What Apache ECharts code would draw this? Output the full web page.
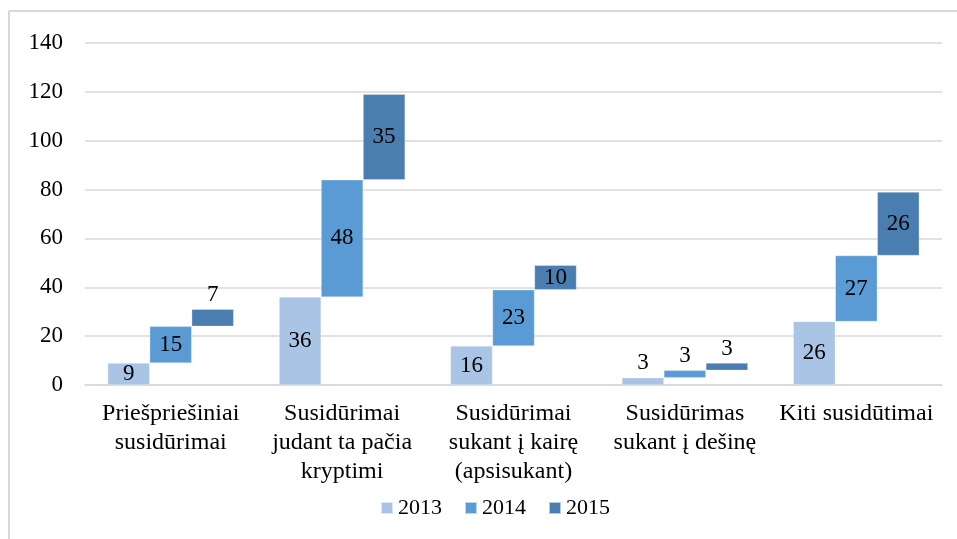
<!DOCTYPE html>
<html>
<head>
<meta charset="utf-8">
<script src="https://cdn.jsdelivr.net/npm/echarts@6/dist/echarts.min.js"></script>
<style>
  html, body { margin: 0; padding: 0; background: #fff; }
  #chart { width: 957px; height: 539px; }
</style>
</head>
<body>
<div id="chart"></div>
<script>
// Collision types and yearly counts; each year's bar floats on top of the previous years.
const categories = [
  'Priešpriešiniai\nsusidūrimai',
  'Susidūrimai\njudant ta pačia\nkryptimi',
  'Susidūrimai\nsukant į kairę\n(apsisukant)',
  'Susidūrimas\nsukant į dešinę',
  'Kiti susidūtimai'
];
const years = ['2013', '2014', '2015'];
const values2013 = [9, 36, 16, 3, 26];
const values2014 = [15, 48, 23, 3, 27];
const values2015 = [7, 35, 10, 3, 26];
const yTicks = { min: 0, max: 140, interval: 20 };

const colors = ['#a9c4e4', '#5b9bd5', '#4a7eb0'];
const FONT = '"Liberation Serif", "Times New Roman", serif';

const yearValues = [values2013, values2014, values2015];

function labelFor(v) {
  return {
    show: true,
    position: v < 8 ? 'top' : 'inside',
    distance: 3,
    color: '#000',
    fontFamily: FONT,
    fontSize: 23
  };
}

const series = [];
yearValues.forEach((vals, yi) => {
  const stackName = 'y' + years[yi];
  // invisible offset: sum of earlier years in the same category
  if (yi > 0) {
    const base = vals.map((_, ci) => {
      let s = 0;
      for (let k = 0; k < yi; k++) s += yearValues[k][ci];
      return s;
    });
    series.push({
      name: 'base' + years[yi],
      type: 'bar',
      stack: stackName,
      data: base,
      itemStyle: { color: 'transparent' },
      emphasis: { disabled: true },
      silent: true,
      barWidth: 42,
      barGap: '0%'
    });
  }
  series.push({
    name: years[yi],
    type: 'bar',
    stack: stackName,
    barWidth: 42,
    barGap: '0%',
    data: vals.map(v => ({ value: v, label: labelFor(v) })),
    itemStyle: { color: colors[yi], borderColor: 'rgba(255,255,255,0.6)', borderWidth: 0.5 }
  });
});

const chart = echarts.init(document.getElementById('chart'), null, { renderer: 'canvas' });
chart.setOption({
  animation: false,
  backgroundColor: '#fff',
  textStyle: { fontFamily: FONT },
  grid: { left: 85, right: 15, top: 43, bottom: 154, containLabel: false },
  legend: {
    data: years,
    top: 497,
    left: 380,
    padding: 0,
    itemWidth: 12,
    itemHeight: 12,
    itemGap: 22,
    icon: 'rect',
    textStyle: { fontFamily: FONT, fontSize: 22, color: '#000' }
  },
  xAxis: {
    type: 'category',
    data: categories,
    axisLine: { lineStyle: { color: '#d9d9d9', width: 1.5 } },
    axisTick: { show: false },
    axisLabel: {
      interval: 0,
      color: '#000',
      fontFamily: FONT,
      fontSize: 24,
      lineHeight: 29,
      margin: 14
    }
  },
  yAxis: {
    type: 'value',
    min: yTicks.min,
    max: yTicks.max,
    interval: yTicks.interval,
    axisLine: { show: false },
    axisTick: { show: false },
    splitLine: { lineStyle: { color: '#d9d9d9', width: 1.5 } },
    axisLabel: { color: '#000', fontFamily: FONT, fontSize: 23, margin: 22 }
  },
  graphic: [
    { type: 'line', shape: { x1: 9, y1: 11, x2: 957, y2: 11 }, style: { stroke: '#d9d9d9', lineWidth: 2 } },
    { type: 'line', shape: { x1: 9, y1: 11, x2: 9, y2: 539 }, style: { stroke: '#d9d9d9', lineWidth: 2 } }
  ],
  series: series
});
</script>
</body>
</html>
